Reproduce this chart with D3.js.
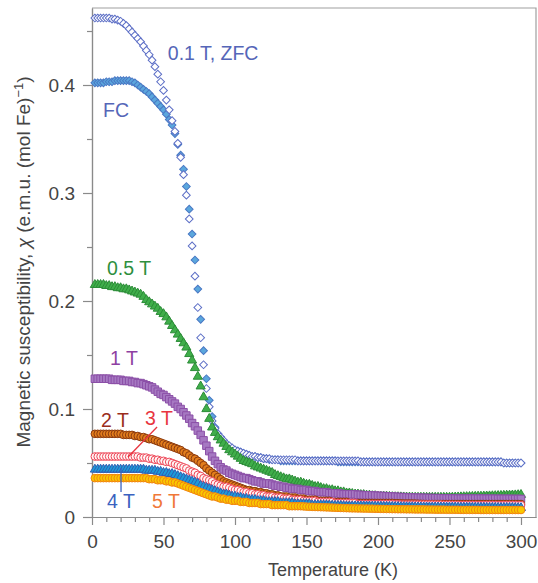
<!doctype html>
<meta charset="utf-8">
<script src="https://d3js.org/d3.v7.min.js"></script>
<style>
body { margin: 0; background: #fff; }
text { font-family: "Liberation Sans", Arial, sans-serif; }
</style>
<body>
<script>

var width = 538;
var height = 583;

// measurement temperatures (K)
var temps = [
  2, 4, 6, 8, 10, 12, 14, 16, 18, 20,
  22, 24, 26, 28, 30, 32, 34, 36, 38, 40,
  42, 44, 46, 48, 50, 52, 54, 56, 58, 60,
  62, 64, 66, 68, 70, 72, 74, 76, 78, 80,
  82, 84, 86, 88, 90, 92, 94, 96, 98, 100,
  102, 104, 106, 108, 110, 112, 114, 116, 118, 120,
  122, 124, 126, 128, 130, 132, 134, 136, 138, 140,
  142, 144, 146, 148, 150, 152, 154, 156, 158, 160,
  162, 164, 166, 168, 170, 172, 174, 176, 178, 180,
  182, 184, 186, 188, 190, 192, 194, 196, 198, 200,
  202, 204, 206, 208, 210, 212, 214, 216, 218, 220,
  222, 224, 226, 228, 230, 232, 234, 236, 238, 240,
  242, 244, 246, 248, 250, 252, 254, 256, 258, 260,
  262, 264, 266, 268, 270, 272, 274, 276, 278, 280,
  282, 284, 286, 288, 290, 292, 294, 296, 298, 300
];

var fc01 = [
  .402, .402, .402, .402, .403, .403, .403, .404, .404, .404,
  .404, .404, .404, .403, .402, .400, .398, .396, .394, .392,
  .389, .386, .383, .380, .377, .373, .368, .363, .355, .345,
  .335, .322, .306, .285, .262, .238, .211, .183, .154, .128,
  .108, .093, .083, .077, .073, .070, .067, .065, .063, .062,
  .061, .060, .059, .058, .057, .056, .056, .055, .055, .054,
  .054, .053, .053, .053, .053, .052, .052, .052, .052, .052,
  .052, .052, .052, .052, .052, .052, .052, .052, .052, .052,
  .052, .052, .052, .052, .052, .051, .051, .051, .051, .051,
  .051, .051, .051, .051, .051, .051, .051, .051, .051, .051,
  .051, .051, .051, .051, .051, .051, .051, .051, .051, .051,
  .051, .051, .051, .051, .051, .051, .051, .051, .051, .051,
  .051, .051, .051, .051, .051, .051, .051, .051, .051, .051,
  .051, .051, .051, .051, .051, .051, .051, .051, .051, .051,
  .051, .051, .051, .050, .050, .050, .050, .050, .050, .050
];

var zfc01 = [
  .462, .462, .462, .462, .462, .462, .461, .461, .460, .459,
  .457, .455, .452, .449, .446, .443, .440, .436, .432, .428,
  .423, .417, .410, .403, .395, .386, .377, .367, .357, .346,
  .333, .317, .298, .276, .251, .223, .194, .166, .141, .119,
  .102, .089, .082, .077, .074, .071, .068, .066, .064, .062,
  .061, .060, .059, .058, .057, .056, .056, .055, .055, .054,
  .054, .054, .053, .053, .053, .053, .053, .053, .053, .053,
  .053, .052, .052, .052, .052, .052, .052, .052, .052, .052,
  .052, .052, .052, .052, .052, .052, .052, .052, .052, .052,
  .052, .052, .052, .051, .051, .051, .051, .051, .051, .051,
  .051, .051, .051, .051, .051, .051, .051, .051, .051, .051,
  .051, .051, .051, .051, .051, .051, .051, .051, .051, .051,
  .051, .051, .051, .051, .051, .051, .051, .051, .051, .051,
  .051, .051, .051, .051, .051, .051, .051, .051, .051, .051,
  .051, .051, .051, .050, .050, .050, .050, .050, .050, .050
];

var t05 = [
  .215, .215, .215, .215, .214, .214, .213, .213, .212, .212,
  .211, .211, .210, .209, .208, .207, .206, .204, .201, .199,
  .197, .195, .193, .190, .188, .185, .181, .177, .173, .169,
  .165, .161, .157, .151, .145, .138, .130, .121, .111, .100,
  .091, .083, .078, .074, .071, .068, .065, .062, .060, .058,
  .056, .054, .052, .051, .050, .049, .047, .046, .045, .044,
  .043, .042, .041, .039, .038, .037, .036, .035, .035, .034,
  .033, .032, .032, .031, .030, .030, .029, .028, .028, .027,
  .026, .026, .025, .025, .024, .024, .023, .023, .022, .022,
  .0215, .021, .021, .0205, .0205, .020, .020, .0195, .0195, .019,
  .019, .019, .019, .0188, .0186, .0185, .0185, .0184, .0183, .0182,
  .0182, .0181, .018, .018, .018, .018, .018, .018, .018, .018,
  .018, .018, .018, .018, .018, .0181, .0182, .0183, .0184, .0185,
  .0186, .0187, .0188, .0189, .019, .019, .0191, .0192, .0193, .0194,
  .0195, .0196, .0197, .0198, .0199, .020, .0201, .0202, .0204, .0206
];

var t1 = [
  .128, .128, .128, .128, .128, .128, .127, .127, .127, .127,
  .126, .126, .126, .125, .125, .124, .124, .123, .122, .121,
  .120, .118, .116, .114, .113, .111, .109, .107, .105, .102,
  .100, .097, .094, .091, .087, .084, .080, .076, .071, .066,
  .061, .056, .052, .049, .046, .044, .043, .041, .040, .039,
  .038, .037, .036, .036, .035, .034, .033, .033, .032, .031,
  .031, .031, .030, .029, .029, .028, .028, .027, .027, .026,
  .026, .026, .025, .025, .025, .024, .024, .024, .023, .023,
  .023, .023, .022, .022, .022, .022, .0215, .021, .021, .021,
  .021, .021, .0205, .0205, .020, .020, .020, .020, .0198, .0196,
  .0195, .0194, .0192, .019, .019, .0188, .0186, .0185, .0184, .0182,
  .018, .018, .0179, .0178, .0178, .0177, .0176, .0176, .0175, .0175,
  .0174, .0174, .0173, .0172, .0172, .0171, .0171, .017, .017, .017,
  .017, .017, .017, .017, .017, .017, .017, .0169, .0169, .0169,
  .0169, .0168, .0168, .0168, .0168, .0168, .0167, .0167, .0167, .0167
];

var t2 = [
  .077, .077, .077, .077, .077, .077, .077, .077, .077, .077,
  .076, .076, .076, .076, .075, .075, .074, .074, .073, .072,
  .072, .071, .070, .069, .068, .067, .066, .065, .064, .063,
  .062, .060, .059, .057, .055, .054, .052, .050, .048, .045,
  .043, .041, .039, .037, .035, .033, .032, .031, .030, .029,
  .028, .027, .026, .025, .025, .024, .024, .023, .023, .022,
  .022, .021, .021, .020, .020, .019, .019, .019, .018, .018,
  .018, .017, .017, .017, .016, .016, .016, .016, .015, .015,
  .015, .015, .015, .014, .014, .014, .014, .014, .014, .013,
  .013, .013, .013, .013, .013, .013, .013, .013, .013, .013,
  .013, .013, .013, .013, .013, .0128, .0127, .0126, .0125, .0125,
  .0125, .0125, .0124, .0123, .0122, .0121, .012, .012, .012, .012,
  .012, .012, .012, .012, .012, .012, .012, .012, .012, .012,
  .012, .012, .012, .012, .012, .012, .012, .012, .012, .012,
  .012, .012, .012, .012, .012, .012, .012, .012, .012, .012
];

var t3 = [
  .056, .056, .056, .056, .056, .056, .056, .056, .056, .056,
  .056, .056, .056, .056, .056, .056, .055, .055, .055, .054,
  .054, .053, .053, .052, .052, .051, .051, .050, .049, .048,
  .047, .046, .045, .043, .042, .041, .039, .038, .036, .035,
  .034, .033, .031, .030, .029, .028, .028, .027, .026, .025,
  .025, .024, .023, .023, .022, .022, .021, .021, .020, .020,
  .019, .019, .019, .018, .018, .018, .017, .017, .017, .016,
  .016, .016, .016, .015, .015, .015, .015, .015, .014, .014,
  .014, .014, .014, .014, .013, .013, .013, .013, .013, .013,
  .013, .013, .012, .012, .012, .012, .012, .012, .012, .012,
  .012, .012, .012, .012, .012, .0118, .0117, .0116, .0115, .0115,
  .0115, .0115, .0115, .0115, .0115, .0115, .0115, .0115, .0115, .0114,
  .0114, .0114, .0113, .0113, .0113, .0112, .0112, .0112, .0111, .0111,
  .0111, .011, .011, .011, .011, .011, .011, .011, .011, .011,
  .011, .011, .011, .011, .011, .011, .011, .011, .011, .011
];

var t4 = [
  .044, .044, .044, .044, .044, .044, .044, .044, .044, .044,
  .044, .044, .044, .044, .044, .044, .044, .044, .043, .043,
  .043, .043, .042, .042, .041, .041, .040, .040, .039, .038,
  .037, .036, .035, .034, .033, .032, .031, .029, .028, .027,
  .026, .025, .024, .023, .022, .021, .021, .020, .019, .019,
  .018, .018, .017, .017, .016, .016, .016, .015, .015, .015,
  .014, .014, .014, .014, .014, .013, .013, .013, .013, .013,
  .012, .012, .012, .012, .012, .012, .011, .011, .011, .011,
  .011, .011, .0108, .0106, .0105, .0105, .0104, .0102, .010, .010,
  .010, .010, .010, .010, .010, .0099, .0099, .0098, .0098, .0097,
  .0097, .0096, .0096, .0095, .0095, .0094, .0094, .0093, .0093, .0092,
  .0092, .0092, .0091, .0091, .0091, .009, .009, .009, .009, .009,
  .009, .009, .009, .0089, .0089, .0089, .0089, .0088, .0088, .0088,
  .0088, .0088, .0087, .0087, .0087, .0087, .0087, .0086, .0086, .0086,
  .0086, .0086, .0085, .0085, .0085, .0085, .0085, .0084, .0084, .0084
];

var t5 = [
  .036, .036, .036, .036, .036, .036, .036, .036, .036, .036,
  .036, .036, .036, .036, .036, .036, .036, .036, .036, .035,
  .035, .035, .034, .034, .034, .033, .033, .032, .032, .031,
  .030, .029, .028, .027, .026, .025, .024, .023, .022, .021,
  .020, .019, .019, .018, .017, .017, .016, .016, .015, .015,
  .015, .014, .014, .014, .013, .013, .013, .013, .012, .012,
  .012, .012, .011, .011, .011, .011, .011, .011, .010, .010,
  .010, .010, .010, .0098, .0096, .0095, .0094, .0093, .0092, .0091,
  .009, .0089, .0088, .0087, .0086, .0085, .0084, .0083, .0082, .0081,
  .008, .008, .0079, .0079, .0078, .0078, .0077, .0077, .0076, .0076,
  .0075, .0075, .0074, .0074, .0073, .0073, .0072, .0072, .0072, .0071,
  .0071, .0071, .007, .007, .007, .007, .0069, .0069, .0069, .0068,
  .0068, .0068, .0068, .0067, .0067, .0067, .0067, .0067, .0066, .0066,
  .0066, .0066, .0066, .0066, .0066, .0065, .0065, .0065, .0065, .0065,
  .0065, .0065, .0065, .0065, .0065, .0065, .0065, .0065, .0065, .0065
];

var xMajor = [0, 50, 100, 150, 200, 250, 300];
var yMajor = [0, 0.1, 0.2, 0.3, 0.4];

var series = [
  {values: fc01, shape: "diamond", fill: "#5ba7dd", stroke: "#4a78c4", size: 30},
  {values: zfc01, shape: "diamond", fill: "#ffffff", stroke: "#5d6fc6", size: 30},
  {values: t05, shape: "triangle", fill: "#3fae4a", stroke: "#2c8c38", size: 36},
  {values: t1, shape: "square", fill: "#a679c2", stroke: "#8b4fa7", size: 56},
  {values: t2, shape: "circle", fill: "#e27d1c", stroke: "#8a3a10", size: 46},
  {values: t3, shape: "circle", fill: "#fff4f4", stroke: "#ee4455", size: 46},
  {values: t4, shape: "triangle", fill: "#1d9ad8", stroke: "#2f5fb2", size: 36},
  {values: t5, shape: "circle", fill: "#f9c800", stroke: "#f2840f", size: 46}
];

var labels = [
  {text: "0.1 T, ZFC", t: 53, v: 0.423, color: "#5566b8"},
  {text: "FC", t: 7.7, v: 0.370, color: "#5566b8"},
  {text: "0.5 T", t: 10.5, v: 0.224, color: "#2e8f3e"},
  {text: "1 T", t: 12.6, v: 0.141, color: "#8e3fa2"},
  {text: "2 T", t: 6.3, v: 0.0833, color: "#9a2d1c"},
  {text: "3 T", t: 37.1, v: 0.0852, color: "#e8353f"},
  {text: "4 T", t: 10.5, v: 0.0083, color: "#3a62c0"},
  {text: "5 T", t: 42, v: 0.0083, color: "#f07838"}
];

var leaders = [
  {t1: 45.5, v1: 0.0833, t2: 25.2, v2: 0.0556, color: "#e8353f"},
  {t1: 20.3, v1: 0.0454, t2: 20.3, v2: 0.0231, color: "#3a62c0"}
];

var svg = d3.select("body")
        .append("svg")
        .attr("width", width)
        .attr("height", height);

var x = d3.scaleLinear()
        .domain([0, 310.5])
        .range([92, 536]);

var y = d3.scaleLinear()
        .domain([0, 0.4713])
        .range([517, 8]);

// frame on top and right
svg.append("path")
        .attr("d", "M" + x(0) + "," + y(0.4713) + "H" + x(310.5) + "V" + y(0))
        .attr("fill", "none")
        .attr("stroke", "#a0a0a0")
        .attr("stroke-width", 1.2);

// minor ticks
var xMinor = d3.range(10, 300, 10).filter(function(d){ return d % 50 !== 0; });
var yMinor = [0.05, 0.15, 0.25, 0.35, 0.45];

svg.append("g")
        .attr("transform", "translate(0," + y(0) + ")")
        .call(d3.axisBottom(x).tickValues(xMinor).tickSize(5).tickSizeOuter(0).tickFormat(""));

svg.append("g")
        .attr("transform", "translate(" + x(0) + ",0)")
        .call(d3.axisLeft(y).tickValues(yMinor).tickSize(5).tickSizeOuter(0).tickFormat(""));

svg.append("g")
        .attr("transform", "translate(0," + y(0) + ")")
        .call(d3.axisBottom(x).tickValues(xMajor).tickSize(8).tickSizeOuter(0).tickPadding(10)
            .tickFormat(d3.format("d")));

svg.append("g")
        .attr("transform", "translate(" + x(0) + ",0)")
        .call(d3.axisLeft(y).tickValues(yMajor).tickSize(9).tickSizeOuter(0).tickPadding(8)
            .tickFormat(function(d){ return d === 0 ? "0" : d3.format(".1f")(d); }));

svg.selectAll(".domain, .tick line")
        .attr("stroke", "#8a8a8a")
        .attr("stroke-width", 1.2);

svg.selectAll(".tick text")
        .attr("fill", "#444")
        .style("font-size", "19px")
        .style("font-family", "'Liberation Sans', Arial, sans-serif");

// axis titles
svg.append("text")
        .attr("x", 333)
        .attr("y", 576)
        .attr("text-anchor", "middle")
        .attr("fill", "#444")
        .style("font-size", "18px")
        .text("Temperature (K)");

var ylab = svg.append("text")
        .attr("transform", "translate(30,262) rotate(-90)")
        .attr("text-anchor", "middle")
        .attr("fill", "#444")
        .style("font-size", "19px");
ylab.append("tspan").text("Magnetic susceptibility, ");
ylab.append("tspan").style("font-style", "italic").text("\u03c7");
ylab.append("tspan").text(" (e.m.u. (mol Fe)");
ylab.append("tspan").attr("dy", -7).style("font-size", "13px").text("\u22121");
ylab.append("tspan").attr("dy", 7).text(")");

// data markers
var shapes = {
    diamond: d3.symbolSquare,
    triangle: d3.symbolTriangle,
    square: d3.symbolSquare,
    circle: d3.symbolCircle
};

series.forEach(function(s){
    var sym = d3.symbol().type(shapes[s.shape]).size(s.size);
    svg.append("g")
            .selectAll("path")
            .data(s.values)
            .enter()
            .append("path")
            .attr("d", sym)
            .attr("transform", function(d, i){
                return "translate(" + x(temps[i]) + "," + y(d) + ")" +
                    (s.shape === "diamond" ? " rotate(45)" : "");
            })
            .attr("fill", s.fill)
            .attr("stroke", s.stroke)
            .attr("stroke-width", 1);
});

// leader lines and labels
svg.selectAll(".leader")
        .data(leaders)
        .enter()
        .append("line")
        .attr("x1", function(d){ return x(d.t1); })
        .attr("y1", function(d){ return y(d.v1); })
        .attr("x2", function(d){ return x(d.t2); })
        .attr("y2", function(d){ return y(d.v2); })
        .attr("stroke", function(d){ return d.color; })
        .attr("stroke-width", 1.3);

svg.selectAll(".label")
        .data(labels)
        .enter()
        .append("text")
        .attr("x", function(d){ return x(d.t); })
        .attr("y", function(d){ return y(d.v); })
        .attr("fill", function(d){ return d.color; })
        .style("font-size", "19.5px")
        .text(function(d){ return d.text; });

</script>
